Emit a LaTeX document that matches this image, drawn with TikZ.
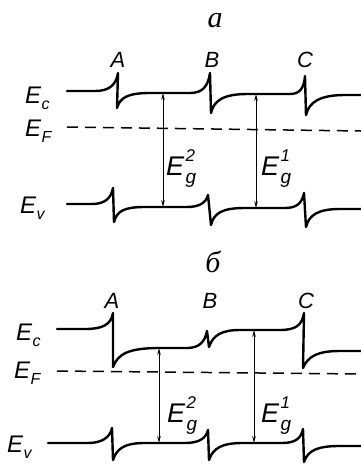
\documentclass[tikz,border=0pt]{standalone}
\usepackage{fontspec}
\setmainfont{Liberation Sans}
\newfontfamily\panelfont{Liberation Serif}
\usetikzlibrary{arrows.meta}
\newcommand{\Esb}[1]{E\kern0.3pt\raisebox{-6pt}{\fontsize{16}{16}\selectfont #1}}
\newcommand{\Egap}[1]{E\kern1.5pt\rlap{\raisebox{14pt}{\fontsize{17}{17}\selectfont #1}}\raisebox{-8pt}{\fontsize{19}{19}\selectfont g}}
\begin{document}
\begin{tikzpicture}[x=1pt,y=-1pt,
  band/.style={line width=2.4pt,line join=round,line cap=round},
  fermi/.style={line width=1.5pt,dash pattern=on 11pt off 7pt},
  gaparrow/.style={line width=0.9pt,{Stealth[length=7pt,width=3.6pt]}-{Stealth[length=7pt,width=3.6pt]}},
  lvl/.style={font=\fontsize{24}{28}\selectfont\itshape,anchor=base west,inner sep=0pt},
  glab/.style={font=\fontsize{27}{30}\selectfont\itshape,anchor=base west,inner sep=0pt},
  pt/.style={font=\fontsize{22}{24}\selectfont\itshape,anchor=base,inner sep=0pt},
  panel/.style={font=\fontsize{30}{32}\selectfont\panelfont\itshape,anchor=base,inner sep=0pt}]
\useasboundingbox (0,0) rectangle (361,464);

% ---------------- panel a ----------------
\node[panel] (pa) at (215,27) {а};
\node[pt] (aA) at (118,67) {A};
\node[pt] (aB) at (212,67) {B};
\node[pt] (aC) at (305,67) {C};
\node[lvl] (aEc) at (25,103) {\Esb{c}};
\node[lvl] (aEF) at (25,136) {\Esb{F}};
\node[lvl] (aEv) at (20,213) {\Esb{v}};

\draw[band] (67,91) -- (95,91) .. controls (108,91) and (116,86) .. (118,73)
  -- (117,108) .. controls (120,98) and (127,93) .. (150,93)
  -- (190,93) .. controls (202,93) and (208,87) .. (210,73)
  -- (211,113) .. controls (214,100) and (224,94) .. (248,94)
  -- (290,94) .. controls (300,94) and (304,88) .. (305,76)
  -- (306,115) .. controls (309,102) and (320,95) .. (345,95) -- (361,95);
\draw[fermi] (67,127) -- (361,131);
\draw[band] (67,204) -- (92,204) .. controls (104,204) and (111,199) .. (113,188)
  -- (114,222) .. controls (117,211) and (124,207) .. (145,207)
  -- (187,207) .. controls (199,207) and (206,203) .. (208,195)
  -- (211,225) .. controls (214,213) and (222,208) .. (245,208)
  -- (285,208) .. controls (297,208) and (302,203) .. (304,193)
  -- (306,227) .. controls (309,215) and (318,209) .. (340,209) -- (361,209);

\coordinate (a2t) at (163,93);
\coordinate (a2b) at (163,207);
\coordinate (a1t) at (256,94);
\coordinate (a1b) at (256,208);
\draw[gaparrow] (a2t) -- (a2b);
\draw[gaparrow] (a1t) -- (a1b);
\node[glab] (aEg2) at (166,175) {\Egap{2}};
\node[glab] (aEg1) at (261,175) {\Egap{1}};

% ---------------- panel b ----------------
\node[panel] (pb) at (213,272) {б};
\node[pt] (bA) at (112,308) {A};
\node[pt] (bB) at (210,308) {B};
\node[pt] (bC) at (306,308) {C};
\node[lvl] (bEc) at (16,340) {\Esb{c}};
\node[lvl] (bEF) at (14,378) {\Esb{F}};
\node[lvl] (bEv) at (7,452) {\Esb{v}};

\draw[band] (57,329) -- (85,329) .. controls (102,329) and (111,325) .. (113,313)
  -- (113,367) .. controls (118,354) and (128,348) .. (160,348)
  -- (187,348) .. controls (199,348) and (205,342) .. (207,331)
  -- (209,347) .. controls (213,335) and (222,330) .. (240,330)
  -- (280,330) .. controls (296,330) and (302,325) .. (304,313)
  -- (303,368) .. controls (308,356) and (318,351) .. (340,351) -- (361,351);
\draw[fermi] (57,371) -- (361,374);
\draw[band] (48,443) -- (88,443) .. controls (101,443) and (110,438) .. (112,428)
  -- (113,460) .. controls (117,448) and (125,443) .. (145,443)
  -- (185,443) .. controls (198,443) and (206,439) .. (208,430)
  -- (209,460) .. controls (213,448) and (222,443) .. (243,443)
  -- (282,443) .. controls (296,443) and (301,438) .. (303,429)
  -- (304,462) .. controls (308,450) and (318,446) .. (340,446) -- (361,446);

\coordinate (b2t) at (159,348);
\coordinate (b2b) at (159,443);
\coordinate (b1t) at (254,330);
\coordinate (b1b) at (254,443);
\draw[gaparrow] (b2t) -- (b2b);
\draw[gaparrow] (b1t) -- (b1b);
\node[glab] (bEg2) at (167,422) {\Egap{2}};
\node[glab] (bEg1) at (261,422) {\Egap{1}};
\end{tikzpicture}
\end{document}
